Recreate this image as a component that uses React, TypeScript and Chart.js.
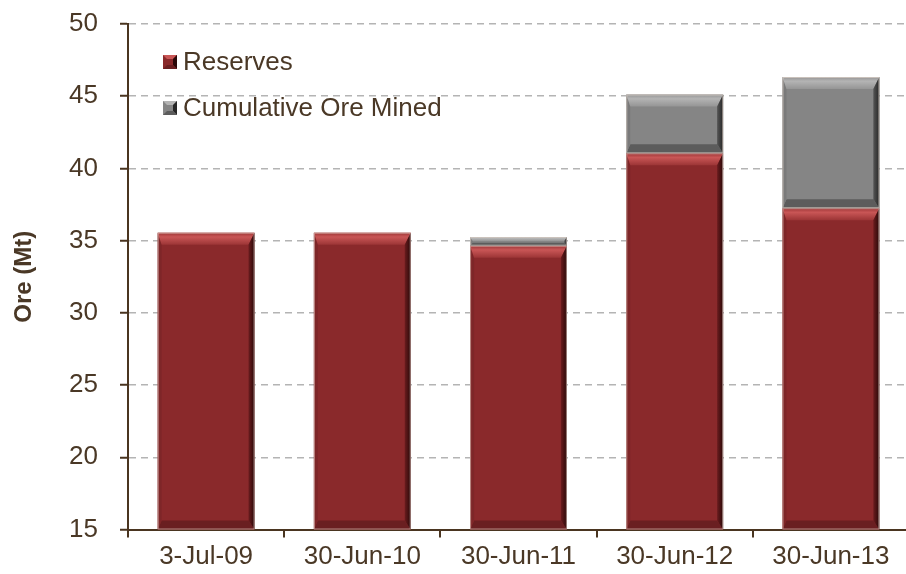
import React, { useEffect, useRef } from "react";
import { Chart, registerables } from "chart.js";

Chart.register(...registerables);

const categories = ["3-Jul-09", "30-Jun-10", "30-Jun-11", "30-Jun-12", "30-Jun-13"];
const reserves = [35.55, 35.55, 34.65, 41.05, 37.25];
const cumulativeOreMined = [0, 0, 0.6, 4.07, 9.08];
const seriesNames = ["Reserves", "Cumulative Ore Mined"];
const yMin = 15;
const yMax = 50;
const yStep = 5;
const yTitle = "Ore (Mt)";

const TEXT = "#4a3826";
const AXIS = "#4a3520";
const RED = "#8a292b";
const GRAY = "#858585";
const FONT = "'Liberation Sans', Arial, sans-serif";

type Pal = { top: string; topHi: string; right: string; rightIn: string; bottom: string; left: string };
const palettes: Record<string, Pal> = {
  [RED]: { top: "#9c3536", topHi: "#c95656", right: "#2a0808", rightIn: "#6a1c1e", bottom: "#6a1f21", left: "#7e2628" },
  [GRAY]: { top: "#959595", topHi: "#b4b4b4", right: "#262626", rightIn: "#555555", bottom: "#5c5c5c", left: "#7a7a7a" },
};

function poly(ctx: CanvasRenderingContext2D, pts: number[][], fill: string | CanvasGradient) {
  ctx.beginPath();
  ctx.moveTo(pts[0][0], pts[0][1]);
  for (let i = 1; i < pts.length; i++) ctx.lineTo(pts[i][0], pts[i][1]);
  ctx.closePath();
  ctx.fillStyle = fill;
  ctx.fill();
}

const bevelPlugin = {
  id: "bevel",
  afterDatasetsDraw(chart: any) {
    const ctx: CanvasRenderingContext2D = chart.ctx;
    const area = chart.chartArea;
    ctx.save();
    chart.data.datasets.forEach((ds: any, di: number) => {
      const meta = chart.getDatasetMeta(di);
      const pal = palettes[ds.backgroundColor];
      meta.data.forEach((el: any) => {
        const p = el.getProps(["x", "y", "base", "width"], true);
        const l = p.x - p.width / 2;
        const r = p.x + p.width / 2;
        const t = Math.max(Math.min(p.y, p.base), area.top);
        const b = Math.min(Math.max(p.y, p.base), area.bottom);
        const h = b - t;
        if (h < 1) return;
        const dt = Math.min(12, h * 0.45);
        const db = Math.min(9, h * 0.35);
        const dr = Math.min(6, h * 0.3);
        const dl = Math.min(4, h * 0.3);
        const il = l + dl, ir = r - dr, it = t + dt, ib = b - db;
        poly(ctx, [[l, b], [r, b], [ir, ib], [il, ib]], pal.bottom);
        poly(ctx, [[l, t], [il, it], [il, ib], [l, b]], pal.left);
        const g = ctx.createLinearGradient(0, t, 0, it);
        g.addColorStop(0, pal.top);
        g.addColorStop(0.35, pal.topHi);
        g.addColorStop(1, pal.top);
        poly(ctx, [[l, t], [r, t], [ir, it], [il, it]], g);
        const gr = ctx.createLinearGradient(ir, 0, r, 0);
        gr.addColorStop(0, pal.rightIn);
        gr.addColorStop(1, pal.right);
        poly(ctx, [[r, t], [r, b], [ir, ib], [ir, it]], gr);
        ctx.strokeStyle = "rgba(240,225,215,0.55)";
        ctx.lineWidth = 1;
        ctx.strokeRect(l + 0.5, t + 0.5, r - l - 1, h - 1);
      });
    });
    ctx.restore();
  },
};

const legendPlugin = {
  id: "customLegend",
  afterDraw(chart: any) {
    const ctx: CanvasRenderingContext2D = chart.ctx;
    const area = chart.chartArea;
    ctx.save();
    ctx.font = `26px ${FONT}`;
    ctx.textBaseline = "middle";
    chart.data.datasets.forEach((ds: any, i: number) => {
      const y = area.top + 38 + i * 46;
      const x = area.left + 35;
      const pal = palettes[ds.backgroundColor];
      ctx.fillStyle = ds.backgroundColor;
      ctx.fillRect(x, y - 7, 14, 14);
      poly(ctx, [[x, y - 7], [x + 14, y - 7], [x + 10, y - 3], [x + 4, y - 3]], pal.topHi);
      poly(ctx, [[x + 14, y - 7], [x + 14, y + 7], [x + 10, y + 3], [x + 10, y - 3]], pal.right);
      poly(ctx, [[x, y + 7], [x + 14, y + 7], [x + 10, y + 3], [x + 4, y + 3]], pal.bottom);
      ctx.fillStyle = TEXT;
      ctx.fillText(ds.label, x + 20, y + 1);
    });
    ctx.restore();
  },
};

export default function App() {
  const ref = useRef<HTMLCanvasElement | null>(null);
  useEffect(() => {
    if (!ref.current) return;
    const chart = new Chart(ref.current, {
      type: "bar",
      data: {
        labels: categories,
        datasets: [
          { label: seriesNames[0], data: reserves, backgroundColor: RED, borderWidth: 0 },
          { label: seriesNames[1], data: cumulativeOreMined, backgroundColor: GRAY, borderWidth: 0 },
        ],
      },
      options: {
        animation: false,
        responsive: false,
        maintainAspectRatio: false,
        layout: { padding: { top: 24, right: 0, bottom: 0, left: 0 } },
        datasets: { bar: { categoryPercentage: 1, barPercentage: 0.62 } },
        plugins: {
          legend: { display: false },
          tooltip: { enabled: false },
        },
        scales: {
          x: {
            stacked: true,
            grid: {
              drawOnChartArea: false,
              offset: true,
              color: AXIS,
              tickColor: AXIS,
              tickLength: 8,
              lineWidth: 2,
            },
            border: { color: AXIS, width: 2 },
            ticks: {
              color: TEXT,
              font: { family: FONT, size: 26 },
              padding: 4,
              maxRotation: 0,
              autoSkip: false,
            },
            afterFit(scale: any) {
              scale.height = 44.5;
              scale.paddingLeft = 0;
              scale.paddingRight = 0;
            },
          },
          y: {
            stacked: true,
            min: yMin,
            max: yMax,
            ticks: {
              stepSize: yStep,
              color: TEXT,
              font: { family: FONT, size: 26 },
              padding: 22,
            },
            grid: {
              color: "#b4b4b4",
              lineWidth: 1.5,
              tickColor: AXIS,
              tickWidth: 2,
              tickLength: 8,
              tickBorderDash: [],
            },
            border: { color: AXIS, width: 2, dash: [7, 5] },
            title: {
              display: true,
              text: yTitle,
              color: TEXT,
              font: { family: FONT, size: 24, weight: "bold" },
              padding: { top: 10, bottom: 0 },
            },
            afterFit(scale: any) {
              scale.width = 128;
              scale.paddingTop = 0;
              scale.paddingBottom = 0;
            },
          },
        },
      },
      plugins: [bevelPlugin, legendPlugin],
    });
    return () => chart.destroy();
  }, []);
  return (
    <div style={{ position: "fixed", left: 0, top: 0, width: 909, height: 574, background: "#fff" }}>
      <canvas ref={ref} width={909} height={574} style={{ display: "block" }} />
    </div>
  );
}
